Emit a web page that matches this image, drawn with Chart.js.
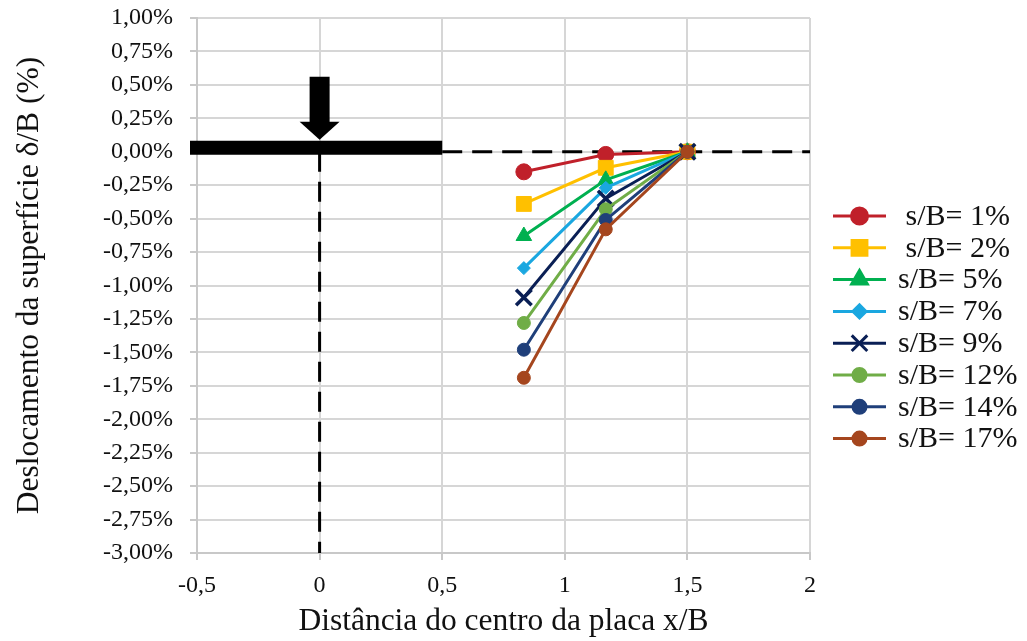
<!DOCTYPE html>
<html>
<head>
<meta charset="utf-8">
<script src="https://cdn.jsdelivr.net/npm/chart.js@4/dist/chart.umd.min.js"></script>
<style>
  html, body { margin: 0; padding: 0; background: #fff; }
  #wrap { width: 1027px; height: 641px; position: relative; }
</style>
</head>
<body>
<div id="wrap"><canvas id="chart"></canvas></div>
<script>
// x/B positions of the measuring points
const xPositions = [0.833, 1.167, 1.5];

// surface displacement d/B (%) for each settlement level
const seriesLabels = [' s/B= 1%', ' s/B= 2%', 's/B= 5%', 's/B= 7%', 's/B= 9%', 's/B= 12%', 's/B= 14%', 's/B= 17%'];
const sb1 = [-0.15, -0.02, 0];
const sb2 = [-0.39, -0.12, 0];
const sb5 = [-0.63, -0.21, 0];
const sb7 = [-0.87, -0.27, 0];
const sb9 = [-1.09, -0.35, 0];
const sb12 = [-1.28, -0.43, 0];
const sb14 = [-1.48, -0.51, 0];
const sb17 = [-1.69, -0.58, 0];
const seriesValues = [sb1, sb2, sb5, sb7, sb9, sb12, sb14, sb17];

const seriesColors = ['#C0202A', '#FFC000', '#00B050', '#1AA7E0', '#0A1F55', '#70AD47', '#1F3F7A', '#A5461E'];
const pointStyles = ['circle', 'rect', 'triangle', 'rectRot', 'crossRot', 'circle', 'circle', 'circle'];
const pointSizes = [8, 10.5, 9, 6.5, 11, 6.5, 6.5, 6.5];

// reference lines (ground surface and plate axis)
const surfaceLineX = [0.5, 2];
const surfaceLineY = [0, 0];
const axisLineX = [0, 0];
const axisLineY = [0, -3];

const fontFam = "'Liberation Serif', 'Times New Roman', serif";

let datasets = seriesValues.map((vals, i) => ({
    label: seriesLabels[i],
    data: vals.map((v, j) => ({x: xPositions[j], y: v})),
    borderColor: seriesColors[i],
    backgroundColor: seriesColors[i],
    borderWidth: 3,
    pointStyle: pointStyles[i],
    pointRadius: pointSizes[i],
    pointBorderWidth: pointStyles[i] === 'crossRot' ? 3.5 : 1,
    pointHoverRadius: pointSizes[i],
    order: 10 - i,
}));

datasets.push({
    label: 'surface',
    data: surfaceLineX.map((x, j) => ({x: x, y: surfaceLineY[j]})),
    borderColor: '#000',
    borderWidth: 3,
    borderDash: [20, 10],
    pointRadius: 0,
    order: 30,
});
datasets.push({
    label: 'axis',
    data: axisLineX.map((x, j) => ({x: x, y: axisLineY[j]})),
    borderColor: '#000',
    borderWidth: 3,
    borderDash: [20, 10],
    pointRadius: 0,
    order: 30,
});

// plate + load arrow drawn on top of the reference lines
const platePlugin = {
    id: 'plate',
    afterDatasetsDraw(chart) {
        const ctx = chart.ctx;
        const xs = chart.scales.x, ys = chart.scales.y;
        const x0 = xs.getPixelForValue(0);
        const xr = xs.getPixelForValue(0.5);
        const xl = xs.getPixelForValue(-0.5) - 7;
        const y0 = ys.getPixelForValue(0);
        ctx.save();
        ctx.fillStyle = '#000';
        ctx.fillRect(xl, y0 - 11, xr - xl, 14);
        // arrow
        ctx.fillRect(x0 - 10, y0 - 75, 20, 46);
        ctx.beginPath();
        ctx.moveTo(x0 - 20, y0 - 30);
        ctx.lineTo(x0 + 20, y0 - 30);
        ctx.lineTo(x0, y0 - 12);
        ctx.closePath();
        ctx.fill();
        ctx.restore();
    }
};

// legend: line + marker + label, like the spreadsheet legend
const legendPlugin = {
    id: 'sideLegend',
    afterDraw(chart) {
        const ctx = chart.ctx;
        ctx.save();
        seriesLabels.forEach((label, i) => {
            const y = 216 + i * 31.8;
            ctx.strokeStyle = seriesColors[i];
            ctx.lineWidth = 3;
            ctx.setLineDash([]);
            ctx.beginPath();
            ctx.moveTo(833, y);
            ctx.lineTo(886, y);
            ctx.stroke();
            ctx.fillStyle = seriesColors[i];
            Chart.helpers.drawPoint(ctx, {
                pointStyle: pointStyles[i],
                radius: pointSizes[i],
                borderWidth: pointStyles[i] === 'crossRot' ? 3.5 : 1,
                rotation: 0,
            }, 859.5, y);
            ctx.fillStyle = '#111';
            ctx.font = '30px ' + fontFam;
            ctx.textBaseline = 'middle';
            ctx.textAlign = 'left';
            ctx.fillText(label, 898, y + 1);
        });
        ctx.restore();
    }
};

const ctx = document.getElementById('chart').getContext('2d');
const chart = new Chart(ctx, {
    type: 'line',
    data: { datasets: datasets },
    options: {
        responsive: true,
        maintainAspectRatio: false,
        animation: false,
        events: [],
        layout: {
            autoPadding: false,
            padding: { left: 0, right: 217, top: 18, bottom: 0 }
        },
        scales: {
            x: {
                type: 'linear',
                min: -0.5,
                max: 2,
                afterFit: (s) => { s.height = 88; s.paddingLeft = 0; s.paddingRight = 0; },
                ticks: {
                    stepSize: 0.5,
                    color: '#111',
                    padding: 11,
                    font: { family: fontFam, size: 24 },
                    callback: (v) => String(v).replace('.', ',')
                },
                grid: { color: '#d6d6d6', lineWidth: 2, tickLength: 7, tickColor: '#c8c8c8' },
                border: { color: '#c8c8c8', width: 2 },
                title: {
                    display: true,
                    text: 'Distância do centro da placa x/B',
                    color: '#111',
                    font: { family: fontFam, size: 31.5 },
                    padding: { top: 0, bottom: 0 }
                }
            },
            y: {
                type: 'linear',
                min: -3,
                max: 1,
                afterFit: (s) => { s.width = 197; s.paddingTop = 0; s.paddingBottom = 0; },
                ticks: {
                    stepSize: 0.25,
                    color: '#111',
                    padding: 17,
                    font: { family: fontFam, size: 24 },
                    callback: (v) => (Math.round(v * 100) / 100).toFixed(2).replace('.', ',') + '%'
                },
                grid: { color: '#d6d6d6', lineWidth: 2, tickLength: 7, tickColor: '#c8c8c8' },
                border: { color: '#c8c8c8', width: 2 },
                title: {
                    display: true,
                    text: 'Deslocamento da superfície δ/B (%)',
                    color: '#111',
                    font: { family: fontFam, size: 31.5 },
                    padding: { top: 11, bottom: 0 }
                }
            }
        },
        plugins: {
            legend: { display: false },
            tooltip: { enabled: false }
        }
    },
    plugins: [platePlugin, legendPlugin]
});
</script>
</body>
</html>
